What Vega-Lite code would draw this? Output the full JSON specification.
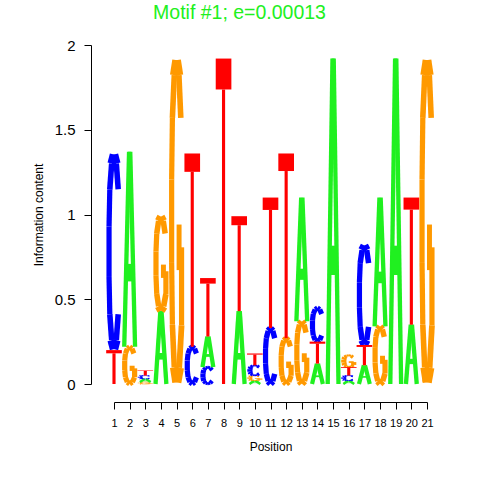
{
  "$schema": "https://vega.github.io/schema/vega-lite/v6.json",
  "autosize": {"type": "none"},
  "padding": {"left": 114, "top": 45, "right": 53, "bottom": 96},
  "width": 313,
  "height": 339,
  "background": "white",
  "title": {
    "text": "Motif #1; e=0.00013",
    "color": "#20f020",
    "font": "Liberation Sans",
    "fontSize": 19.5,
    "fontWeight": "normal",
    "anchor": "middle",
    "frame": "group",
    "baseline": "alphabetic",
    "dx": -31,
    "offset": 0
  },
  "config": {
    "view": {"stroke": null},
    "axis": {
      "grid": false,
      "domainColor": "black",
      "tickColor": "black",
      "tickSize": 7,
      "labelFont": "Liberation Sans",
      "labelColor": "black",
      "labelOverlap": false,
      "labelFlush": false,
      "titleFont": "Liberation Sans",
      "titleFontSize": 12,
      "titleFontWeight": "normal",
      "titleColor": "black"
    },
    "axisX": {"labelFontSize": 11},
    "axisY": {"labelFontSize": 15}
  },
  "data": {
    "values": [
      {"pos": 1, "letter": "T", "h": 0.20}, {"pos": 1, "letter": "C", "h": 1.16},
      {"pos": 2, "letter": "G", "h": 0.22}, {"pos": 2, "letter": "A", "h": 1.15},
      {"pos": 3, "letter": "G", "h": 0.012}, {"pos": 3, "letter": "A", "h": 0.018}, {"pos": 3, "letter": "C", "h": 0.02}, {"pos": 3, "letter": "T", "h": 0.03},
      {"pos": 4, "letter": "A", "h": 0.43}, {"pos": 4, "letter": "G", "h": 0.56},
      {"pos": 5, "letter": "G", "h": 1.92},
      {"pos": 6, "letter": "C", "h": 0.22}, {"pos": 6, "letter": "T", "h": 1.14},
      {"pos": 7, "letter": "C", "h": 0.10}, {"pos": 7, "letter": "A", "h": 0.18}, {"pos": 7, "letter": "T", "h": 0.345},
      {"pos": 8, "letter": "T", "h": 1.92},
      {"pos": 9, "letter": "A", "h": 0.43}, {"pos": 9, "letter": "T", "h": 0.56},
      {"pos": 10, "letter": "A", "h": 0.02}, {"pos": 10, "letter": "G", "h": 0.03}, {"pos": 10, "letter": "C", "h": 0.06}, {"pos": 10, "letter": "T", "h": 0.07},
      {"pos": 11, "letter": "C", "h": 0.33}, {"pos": 11, "letter": "T", "h": 0.77},
      {"pos": 12, "letter": "G", "h": 0.27}, {"pos": 12, "letter": "T", "h": 1.09},
      {"pos": 13, "letter": "G", "h": 0.37}, {"pos": 13, "letter": "A", "h": 0.73},
      {"pos": 14, "letter": "A", "h": 0.12}, {"pos": 14, "letter": "T", "h": 0.13}, {"pos": 14, "letter": "C", "h": 0.20},
      {"pos": 15, "letter": "A", "h": 1.92},
      {"pos": 16, "letter": "A", "h": 0.02}, {"pos": 16, "letter": "C", "h": 0.03}, {"pos": 16, "letter": "T", "h": 0.05}, {"pos": 16, "letter": "G", "h": 0.07},
      {"pos": 17, "letter": "A", "h": 0.11}, {"pos": 17, "letter": "T", "h": 0.12}, {"pos": 17, "letter": "C", "h": 0.59},
      {"pos": 18, "letter": "G", "h": 0.34}, {"pos": 18, "letter": "A", "h": 0.76},
      {"pos": 19, "letter": "A", "h": 1.92},
      {"pos": 20, "letter": "A", "h": 0.35}, {"pos": 20, "letter": "T", "h": 0.75},
      {"pos": 21, "letter": "G", "h": 1.92}
    ]
  },
  "transform": [
    {"stack": "h", "groupby": ["pos"], "sort": [{"field": "h", "order": "ascending"}], "as": ["y0", "y1"]}
  ],
  "layer": [
    {
      "transform": [
        {"filter": "datum.letter !== 'T'"},
        {"calculate": "datum.letter === 'A' ? [[-0.72,0,-0.08,1],[0.72,0,0.08,1],[-0.5,0.38,0.5,0.38]] : datum.letter === 'C' ? [[0.559,0.818,0.309,0.949],[0.309,0.949,0,0.995],[0,0.995,-0.309,0.949],[-0.309,0.949,-0.559,0.818],[-0.559,0.818,-0.66,0.628],[-0.66,0.628,-0.66,0.372],[-0.66,0.372,-0.559,0.182],[-0.559,0.182,-0.309,0.051],[-0.309,0.051,0,0.005],[0,0.005,0.309,0.051],[0.309,0.051,0.559,0.182]] : [[0.559,0.818,0.309,0.949],[0.309,0.949,0,0.995],[0,0.995,-0.309,0.949],[-0.309,0.949,-0.559,0.818],[-0.559,0.818,-0.66,0.628],[-0.66,0.628,-0.66,0.372],[-0.66,0.372,-0.559,0.182],[-0.559,0.182,-0.309,0.051],[-0.309,0.051,0,0.005],[0,0.005,0.35,0.05],[0.35,0.05,0.66,0.18],[0.66,0.18,0.66,0.42],[0.66,0.42,0,0.42]]", "as": "seg"},
        {"flatten": ["seg"]},
        {"calculate": "datum.y1 - datum.y0", "as": "hh"},
        {"calculate": "datum.hh * 169.5", "as": "hp"},
        {"calculate": "datum.pos + datum.seg[0] * 0.48", "as": "ax"},
        {"calculate": "datum.y0 + datum.seg[1] * datum.hh", "as": "ay"},
        {"calculate": "datum.pos + datum.seg[2] * 0.48", "as": "bx"},
        {"calculate": "datum.y0 + datum.seg[3] * datum.hh", "as": "by"},
        {"calculate": "datum.letter === 'A' ? 4.3 : 5.2", "as": "tx"},
        {"calculate": "(datum.letter === 'A' ? 0.09 : 0.14) * datum.hp", "as": "ty"},
        {"calculate": "(datum.seg[2] - datum.seg[0]) * 0.48 * 15.65", "as": "dxp"},
        {"calculate": "(datum.seg[3] - datum.seg[1]) * datum.hp", "as": "dyp"},
        {"calculate": "sqrt(datum.dxp * datum.dxp + datum.dyp * datum.dyp)", "as": "ln"},
        {"calculate": "datum.ln > 0 ? max(0.6, sqrt(pow(datum.tx * datum.dyp, 2) + pow(datum.ty * datum.dxp, 2)) / datum.ln) : 0.6", "as": "sw"}
      ],
      "mark": {"type": "rule", "strokeCap": "butt"},
      "encoding": {
        "x": {
          "field": "ax", "type": "quantitative",
          "scale": {"domain": [1, 21], "nice": false, "zero": false},
          "axis": {"title": "Position", "values": [1, 2, 3, 4, 5, 6, 7, 8, 9, 10, 11, 12, 13, 14, 15, 16, 17, 18, 19, 20, 21], "format": "d", "offset": 18, "labelPadding": 8, "titlePadding": 13}
        },
        "y": {
          "field": "ay", "type": "quantitative",
          "scale": {"domain": [0, 2], "nice": false, "zero": false},
          "axis": {"title": "Information content", "values": [0, 0.5, 1, 1.5, 2], "format": "~g", "offset": 23, "labelPadding": 9, "titlePadding": 9}
        },
        "x2": {"field": "bx"},
        "y2": {"field": "by"},
        "color": {
          "field": "letter", "type": "nominal",
          "scale": {"domain": ["A", "C", "G", "T"], "range": ["#20f020", "#0000ff", "#ff9900", "#ff0000"]},
          "legend": null
        },
        "strokeWidth": {"field": "sw", "type": "quantitative", "scale": null}
      }
    },
    {
      "transform": [
        {"filter": "datum.letter === 'T'"},
        {"calculate": "datum.pos - 0.5", "as": "xl"},
        {"calculate": "datum.pos + 0.5", "as": "xr"},
        {"calculate": "datum.y1 - 0.095 * (datum.y1 - datum.y0)", "as": "yc"}
      ],
      "mark": {"type": "rect", "color": "#ff0000"},
      "encoding": {
        "x": {
          "field": "xl", "type": "quantitative",
          "scale": {"domain": [1, 21], "nice": false, "zero": false},
          "axis": {"title": "Position", "values": [1, 2, 3, 4, 5, 6, 7, 8, 9, 10, 11, 12, 13, 14, 15, 16, 17, 18, 19, 20, 21], "format": "d", "offset": 18, "labelPadding": 8, "titlePadding": 13}
        },
        "x2": {"field": "xr"},
        "y": {
          "field": "yc", "type": "quantitative",
          "scale": {"domain": [0, 2], "nice": false, "zero": false},
          "axis": {"title": "Information content", "values": [0, 0.5, 1, 1.5, 2], "format": "~g", "offset": 23, "labelPadding": 9, "titlePadding": 9}
        },
        "y2": {"field": "y1"}
      }
    },
    {
      "transform": [
        {"filter": "datum.letter === 'T'"},
        {"calculate": "datum.pos - 0.1", "as": "sl"},
        {"calculate": "datum.pos + 0.1", "as": "sr"},
        {"calculate": "datum.y1 - 0.095 * (datum.y1 - datum.y0)", "as": "yc"}
      ],
      "mark": {"type": "rect", "color": "#ff0000"},
      "encoding": {
        "x": {
          "field": "sl", "type": "quantitative",
          "scale": {"domain": [1, 21], "nice": false, "zero": false},
          "axis": {"title": "Position", "values": [1, 2, 3, 4, 5, 6, 7, 8, 9, 10, 11, 12, 13, 14, 15, 16, 17, 18, 19, 20, 21], "format": "d", "offset": 18, "labelPadding": 8, "titlePadding": 13}
        },
        "x2": {"field": "sr"},
        "y": {
          "field": "y0", "type": "quantitative",
          "scale": {"domain": [0, 2], "nice": false, "zero": false},
          "axis": {"title": "Information content", "values": [0, 0.5, 1, 1.5, 2], "format": "~g", "offset": 23, "labelPadding": 9, "titlePadding": 9}
        },
        "y2": {"field": "yc"}
      }
    }
  ]
}
